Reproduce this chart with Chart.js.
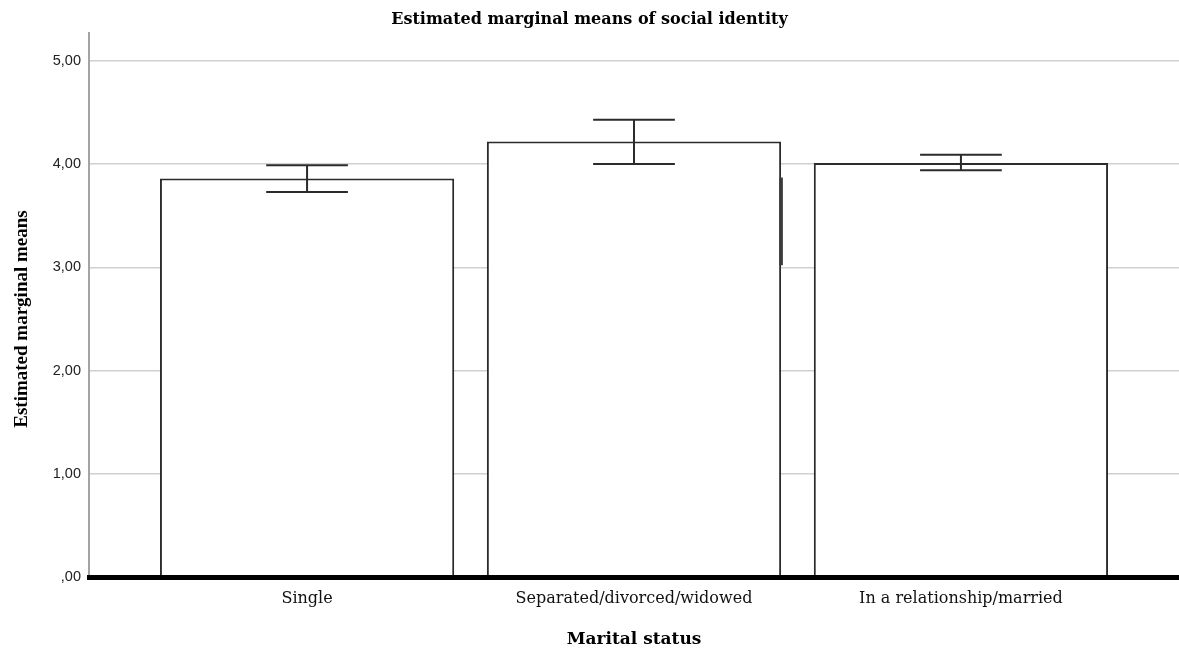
<!DOCTYPE html>
<html>
<head>
<meta charset="utf-8">
<script src="https://cdn.jsdelivr.net/npm/chart.js@4"></script>
<style>
  html, body { margin: 0; padding: 0; background: #fff; }
  #wrap { width: 1179px; height: 655px; }
</style>
</head>
<body>
<div id="wrap"><canvas id="c"></canvas></div>
<script>
// Marital status groups and the estimated marginal means of social identity
const categories = ['Single', 'Separated/divorced/widowed', 'In a relationship/married'];
const means = [3.86, 4.22, 4.01];
const lowerCI = [3.73, 4.00, 3.94];
const upperCI = [3.99, 4.43, 4.09];
const yTicks = [0, 1, 2, 3, 4, 5];
// dark stroke drawn over the right edge of the second bar (value range)
const edgeStroke = [3.02, 3.87];

const wideSerif = "'DejaVu Serif', serif";
const serif = "'Liberation Serif', 'Times New Roman', serif";
const sans = "'Liberation Sans', Arial, sans-serif";
const yTitle = 'Estimated marginal means';

function fmtTick(v) {
  const s = v.toFixed(2).replace('.', ',');
  return v === 0 ? ',00' : s;
}

// Error bars (confidence interval) with caps, the edge stroke and the y title
const errorBars = {
  id: 'errorBars',
  afterDatasetsDraw(chart) {
    const { ctx, chartArea, scales: { x, y } } = chart;
    ctx.save();
    ctx.strokeStyle = '#2b2b2b';
    ctx.lineWidth = 2;
    categories.forEach((_, i) => {
      const cx = x.getPixelForValue(i);
      const half = x.getPixelForValue(i + 0.125) - cx;
      const yt = y.getPixelForValue(upperCI[i]);
      const yb = y.getPixelForValue(lowerCI[i]);
      ctx.beginPath();
      ctx.moveTo(cx, yt); ctx.lineTo(cx, yb);
      ctx.moveTo(cx - half, yt); ctx.lineTo(cx + half, yt);
      ctx.moveTo(cx - half, yb); ctx.lineTo(cx + half, yb);
      ctx.stroke();
    });
    const bar = chart.getDatasetMeta(0).data[1];
    const ex = bar.x + bar.width / 2;
    ctx.strokeStyle = '#3a3a3a';
    ctx.lineWidth = 3.5;
    ctx.beginPath();
    ctx.moveTo(ex, y.getPixelForValue(edgeStroke[1]));
    ctx.lineTo(ex, y.getPixelForValue(edgeStroke[0]));
    ctx.stroke();

    // rotated y-axis title, a little below the centre of the plot
    ctx.translate(22, (chartArea.top + chartArea.bottom) / 2 + 14);
    ctx.rotate(-Math.PI / 2);
    ctx.fillStyle = '#000';
    ctx.font = "bold 19px " + serif;
    ctx.textAlign = 'center';
    ctx.textBaseline = 'middle';
    ctx.fillText(yTitle, 0, 0);
    ctx.restore();
  }
};

new Chart(document.getElementById('c'), {
  type: 'bar',
  data: {
    datasets: [{
      data: means.map((m, i) => ({ x: i, y: m })),
      backgroundColor: '#ffffff',
      borderColor: '#2b2b2b',
      borderWidth: 2,
      barPercentage: 0.9,
      categoryPercentage: 1.0
    }]
  },
  options: {
    responsive: true,
    maintainAspectRatio: false,
    animation: false,
    layout: { padding: 0 },
    plugins: {
      legend: { display: false },
      tooltip: { enabled: false },
      title: {
        display: true,
        text: 'Estimated marginal means of social identity',
        color: '#000',
        font: { family: wideSerif, size: 16, weight: 'bold' },
        padding: { top: 10, bottom: 3.8 }
      }
    },
    scales: {
      x: {
        type: 'linear',
        offset: false,
        min: -0.667,
        max: 2.667,
        afterBuildTicks(scale) { scale.ticks = categories.map((_, i) => ({ value: i })); },
        afterFit(scale) { scale.height = 78; },
        grid: { display: false, drawTicks: false },
        border: { display: true, color: '#000', width: 5, z: 1 },
        ticks: {
          padding: 12,
          color: '#111',
          font: { family: wideSerif, size: 16 },
          callback: (v) => categories[v]
        },
        title: {
          display: true,
          text: 'Marital status',
          color: '#000',
          font: { family: wideSerif, size: 17, weight: 'bold' },
          padding: { top: 0, bottom: 5 }
        }
      },
      y: {
        min: 0,
        max: 5.27,
        afterBuildTicks(scale) { scale.ticks = yTicks.map(v => ({ value: v })); },
        afterFit(scale) { scale.width = 89; },
        grid: { color: '#d0d0d0', lineWidth: 1.5, drawTicks: false },
        border: { display: true, color: '#a3a3a3', width: 2 },
        ticks: {
          padding: 8,
          color: '#222',
          font: { family: sans, size: 14.5 },
          callback: (v) => fmtTick(v)
        },
        title: { display: false }
      }
    }
  },
  plugins: [errorBars]
});
</script>
</body>
</html>
